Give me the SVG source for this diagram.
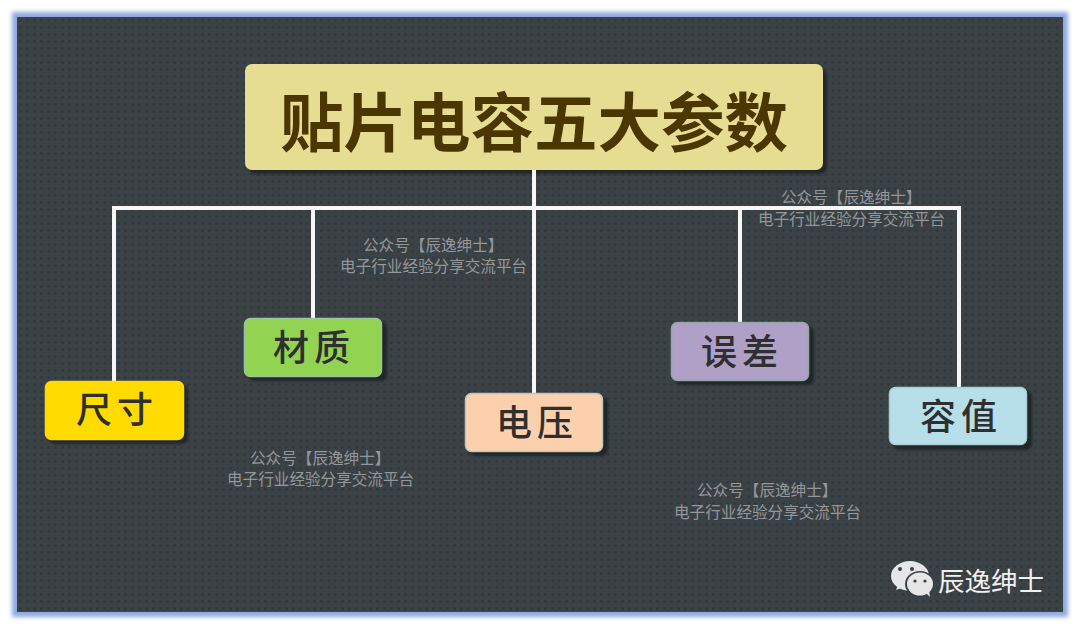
<svg xmlns="http://www.w3.org/2000/svg" width="1080" height="629" viewBox="0 0 1080 629">
<style>
.node{stroke-width:1.5}
.lbl{font-family:"Noto Sans CJK SC","Noto Sans CJK JP",sans-serif;font-size:36px;font-weight:500;fill:#2f2f2f;text-anchor:middle;letter-spacing:5px}
.wm{font-family:"Noto Sans CJK SC","Noto Sans CJK JP",sans-serif;font-size:15.6px;fill:#94979a}
.conn{stroke:#f6f6f6;stroke-width:4;fill:none}
.bub{fill:#e6e6e6}
.eye{fill:#3a4145}
</style>
<defs>
<pattern id="dots" width="7" height="7" patternUnits="userSpaceOnUse" x="17" y="17">
<rect width="7" height="7" fill="#3b4246"/>
<circle cx="3.5" cy="3.5" r="1.3" fill="#30363a"/>
</pattern>
<filter id="glow" x="-5%" y="-5%" width="110%" height="110%"><feGaussianBlur stdDeviation="2.2"/></filter>
<filter id="sh" x="-10%" y="-10%" width="125%" height="130%"><feGaussianBlur stdDeviation="1.2"/></filter>
</defs>
<rect width="1080" height="629" fill="#ffffff"/>
<rect x="12" y="12" width="1056" height="605" fill="#8fa9de" filter="url(#glow)"/>
<rect x="17" y="17" width="1046" height="595" fill="url(#dots)"/>

<g id="title">
<rect x="249" y="69" width="578" height="105" rx="7" fill="#23282b" filter="url(#sh)"/>
<rect x="245" y="64" width="578" height="106" rx="7" fill="#e7dd92"/>
<text x="534" y="146" font-family="'Noto Sans CJK SC','Noto Sans CJK JP',sans-serif" font-size="63.5" font-weight="700" fill="#4a3700" text-anchor="middle">贴片电容五大参数</text>
</g>

<g id="connectors" class="conn">
<path d="M534 170V393"/>
<path d="M114 381V208H959V387"/>
<path d="M313 208V318"/>
<path d="M740 208V322"/>
</g>

<g id="node-chicun">
<rect x="49" y="385" width="139" height="59" rx="6" fill="#23282b" filter="url(#sh)"/>
<rect class="node" x="45.500" y="381.500" width="138" height="58" rx="6" fill="#ffdb00" stroke="#ffdb00"/>
<text class="lbl" x="117" y="423">尺寸</text>
</g>
<g id="node-caizhi">
<rect x="248" y="322" width="139" height="59" rx="6" fill="#23282b" filter="url(#sh)"/>
<rect class="node" x="244.500" y="318.500" width="137" height="58" rx="6" fill="#92d451" stroke="#9cc3a0"/>
<text class="lbl" x="314" y="361">材质</text>
</g>
<g id="node-dianya">
<rect x="469" y="397" width="139" height="59" rx="6" fill="#23282b" filter="url(#sh)"/>
<rect class="node" x="465.500" y="393.500" width="137" height="58" rx="6" fill="#fdd0ad" stroke="#b8c9bd"/>
<text class="lbl" x="537" y="436">电压</text>
</g>
<g id="node-wucha">
<rect x="675" y="326" width="139" height="59" rx="6" fill="#23282b" filter="url(#sh)"/>
<rect class="node" x="671.500" y="322.500" width="137" height="58" rx="6" fill="#b0a0c8" stroke="#8ea9a6"/>
<text class="lbl" x="742" y="365">误差</text>
</g>
<g id="node-rongzhi">
<rect x="893" y="391" width="139" height="59" rx="6" fill="#23282b" filter="url(#sh)"/>
<rect class="node" x="889.500" y="387.500" width="137" height="57" rx="6" fill="#b7dfea" stroke="#a9cfd6"/>
<text class="lbl" x="961" y="430">容值</text>
</g>

<g id="watermarks">
<text class="wm" x="363" y="250.500">公众号【辰逸绅士】</text>
<text class="wm" x="340" y="272">电子行业经验分享交流平台</text>
<text class="wm" x="781" y="203">公众号【辰逸绅士】</text>
<text class="wm" x="758" y="224.500">电子行业经验分享交流平台</text>
<text class="wm" x="250" y="463.500">公众号【辰逸绅士】</text>
<text class="wm" x="227" y="485">电子行业经验分享交流平台</text>
<text class="wm" x="697" y="496">公众号【辰逸绅士】</text>
<text class="wm" x="674" y="517.500">电子行业经验分享交流平台</text>
</g>

<g id="brand">
<ellipse class="bub" cx="910" cy="576" rx="19" ry="15"/>
<path class="bub" d="M898 585L896 590 904 587Z"/>
<ellipse cx="920" cy="584" rx="15" ry="13" fill="#3a4145"/>
<ellipse class="bub" cx="920" cy="584" rx="13" ry="11.500"/>
<path class="bub" d="M926 593L930 597 929 590Z"/>
<circle class="eye" cx="900" cy="569" r="2"/>
<circle class="eye" cx="912" cy="569" r="2"/>
<circle class="eye" cx="915" cy="581" r="1.600"/>
<circle class="eye" cx="925" cy="581" r="1.600"/>
<text x="938" y="591" font-family="'Noto Sans CJK SC','Noto Sans CJK JP',sans-serif" font-size="26.500" fill="#f0f0f0">辰逸绅士</text>
</g>
</svg>
